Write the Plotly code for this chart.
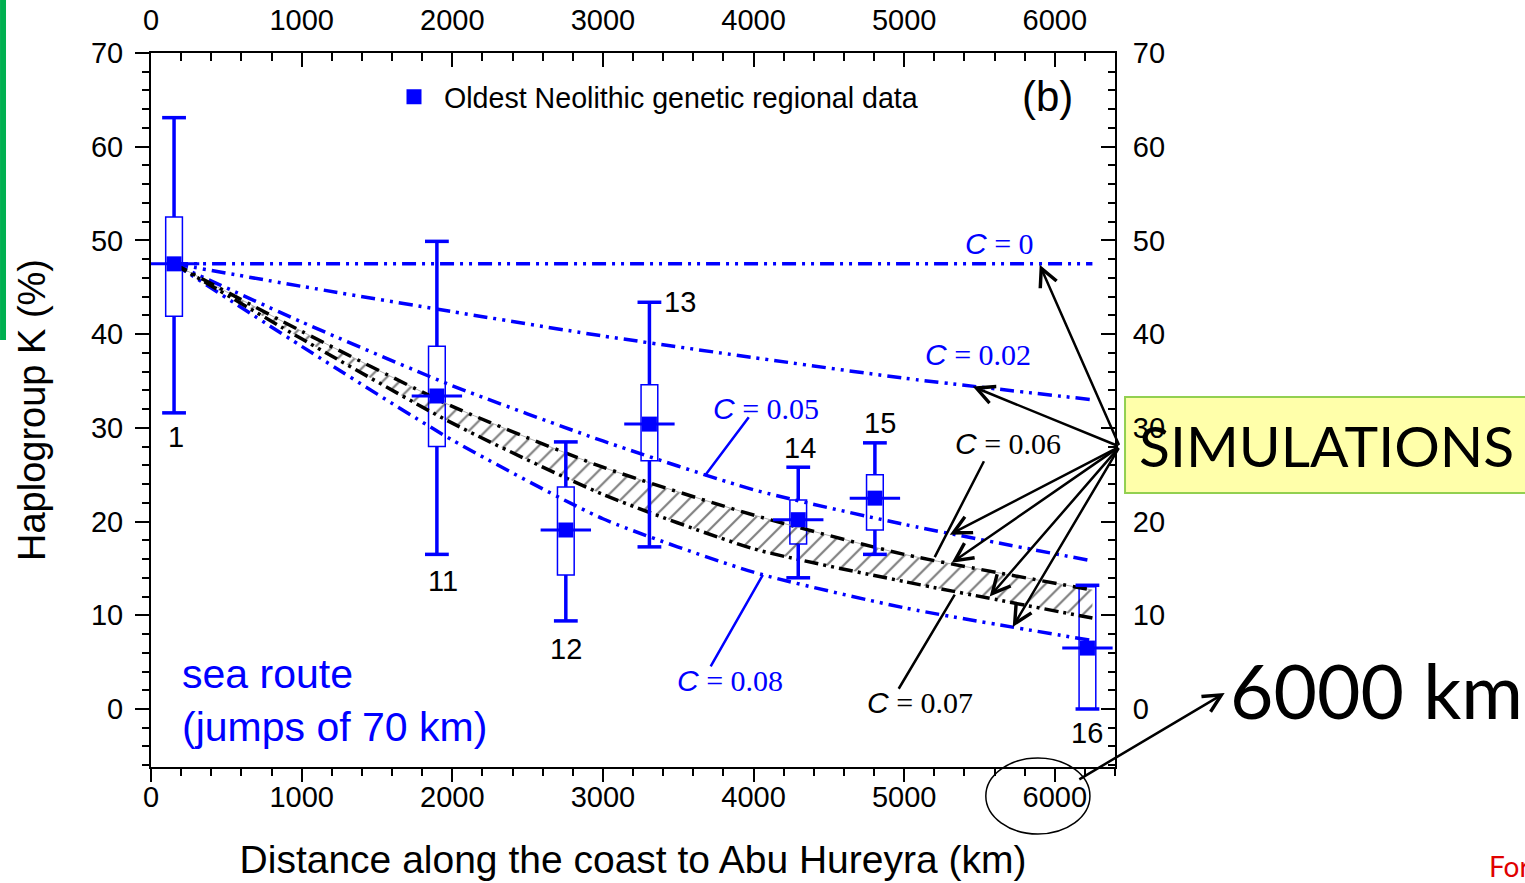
import plotly.graph_objects as go

# ---------------- data ----------------
sites = ["1", "11", "12", "13", "14", "15", "16"]
distance_km = [153, 1898, 2754, 3309, 4297, 4806, 6217]
mean_k = [47.5, 33.4, 19.1, 30.4, 20.2, 22.5, 6.5]
box_low = [41.9, 28.0, 14.3, 26.5, 17.6, 19.1, 0.0]
box_high = [52.5, 38.7, 23.7, 34.6, 22.3, 25.0, 13.05]
whisker_low = [31.6, 16.5, 9.4, 17.3, 14.0, 16.5, 0.0]
whisker_high = [63.1, 49.9, 28.5, 43.4, 25.8, 28.4, 13.2]
site_label_x = [166, 1938, 2754, 3511, 4307, 4838, 6212]
site_label_y = [29.0, 13.7, 6.4, 43.4, 27.9, 30.5, -2.6]

sim_x_km = [153, 1000, 2000, 3000, 4000, 5000, 6250]
sim_c000 = [47.5, 47.5, 47.5, 47.5, 47.5, 47.5, 47.5]
sim_c002 = [47.5, 45.1, 42.4, 39.8, 37.5, 35.3, 33.0]
sim_c005 = [47.5, 41.3, 34.5, 28.6, 23.4, 19.7, 15.8]
sim_c006 = [47.5, 40.3, 32.3, 25.8, 20.7, 16.5, 12.7]
sim_c007 = [47.5, 39.5, 30.5, 22.9, 17.1, 13.6, 9.7]
sim_c008 = [47.5, 38.7, 28.7, 20.3, 14.6, 10.8, 7.3]

x_ticks = [0, 1000, 2000, 3000, 4000, 5000, 6000]
y_ticks = [0, 10, 20, 30, 40, 50, 60, 70]

# C labels: text, x, y, colour
c_labels = ["C = 0", "C = 0.02", "C = 0.05", "C = 0.06", "C = 0.08", "C = 0.07"]
c_label_x = [5635, 5489, 4082, 5688, 3843, 5104]
c_label_y = [49.7, 37.8, 32.1, 28.3, 3.0, 0.64]
c_label_col = ["blue", "blue", "blue", "black", "blue", "black"]
# leader lines (from, to)
leader_from = [(3976, 31.3), (5535, 26.6), (3710, 4.4), (4958, 2.0)]
leader_to = [(3677, 24.9), (5203, 16.2), (4062, 14.3), (5336, 12.2)]
leader_col = ["blue", "black", "blue", "black"]
# arrows from SIMULATIONS box
arrow_tail = (6431, 28.0)
arrow_heads = [(5900, 47.4), (5456, 34.4), (5303, 18.6), (5316, 15.6), (5568, 12.0), (5721, 8.75)]

BLUE = "#0000ff"
FONT = "Liberation Sans"
SERIF = "Liberation Serif"

fig = go.Figure()

# hatched band between C=0.07 and C=0.06
fig.add_trace(go.Scatter(x=sim_x_km, y=sim_c007, mode="lines",
                         line=dict(width=0, color="rgba(0,0,0,0)", shape="spline", smoothing=0.6),
                         showlegend=False, hoverinfo="skip"))
fig.add_trace(go.Scatter(x=sim_x_km, y=sim_c006, mode="lines",
                         line=dict(width=0, color="rgba(0,0,0,0)", shape="spline", smoothing=0.6),
                         fill="tonexty", fillcolor="rgba(255,255,255,0)",
                         fillpattern=dict(shape="/", fgcolor="black", bgcolor="rgba(255,255,255,0)",
                                          size=12, solidity=0.18, fillmode="overlay"),
                         showlegend=False, hoverinfo="skip"))

# boxes
fig.add_trace(go.Box(x=distance_km, q1=box_low, median=mean_k, q3=box_high,
                     lowerfence=box_low, upperfence=box_high, width=111,
                     fillcolor="white", line=dict(color=BLUE, width=1.5),
                     whiskerwidth=0, boxpoints=False, showlegend=False, hoverinfo="skip"))

# simulation lines
blue_dash = "14px,6px,3px,6px,3px,6px"
# C = 0 line drawn on the mirrored (top/right) axes so that they are rendered
fig.add_trace(go.Scatter(x=sim_x_km, y=sim_c000, mode="lines", xaxis="x2", yaxis="y2",
                         line=dict(color=BLUE, width=3.5, dash=blue_dash),
                         showlegend=False, hoverinfo="skip"))
for ys in [sim_c002, sim_c005, sim_c008]:
    fig.add_trace(go.Scatter(x=sim_x_km, y=ys, mode="lines",
                             line=dict(color=BLUE, width=3.5, dash=blue_dash, shape="spline", smoothing=0.6),
                             showlegend=False, hoverinfo="skip"))
fig.add_trace(go.Scatter(x=sim_x_km, y=sim_c006, mode="lines",
                         line=dict(color="#b0b0b0", width=1, shape="spline", smoothing=0.6),
                         showlegend=False, hoverinfo="skip"))
fig.add_trace(go.Scatter(x=sim_x_km, y=sim_c006, mode="lines",
                         line=dict(color="black", width=3.5, dash="14px,7px,3px,7px", shape="spline", smoothing=0.6),
                         showlegend=False, hoverinfo="skip"))
fig.add_trace(go.Scatter(x=sim_x_km, y=sim_c007, mode="lines",
                         line=dict(color="black", width=3.5, dash="14px,5px,3px,5px,3px,5px", shape="spline", smoothing=0.6),
                         showlegend=False, hoverinfo="skip"))

# whisker stems
stem_x, stem_y = [], []
for d, lo, q1, q3, hi in zip(distance_km, whisker_low, box_low, box_high, whisker_high):
    stem_x += [d, d, None, d, d, None]
    stem_y += [q3, hi, None, lo, q1, None]
fig.add_trace(go.Scatter(x=stem_x, y=stem_y, mode="lines", line=dict(color=BLUE, width=3.5),
                         showlegend=False, hoverinfo="skip"))
# caps
fig.add_trace(go.Scatter(x=distance_km + distance_km, y=whisker_high + whisker_low, mode="markers",
                         marker=dict(symbol="line-ew", size=17, line=dict(color=BLUE, width=3.5)),
                         showlegend=False, hoverinfo="skip"))
# mean cross-bar
fig.add_trace(go.Scatter(x=distance_km, y=mean_k, mode="markers",
                         marker=dict(symbol="line-ew", size=36, line=dict(color=BLUE, width=3)),
                         showlegend=False, hoverinfo="skip"))
# mean squares (legend entry)
fig.add_trace(go.Scatter(x=distance_km, y=mean_k, mode="markers",
                         name="Oldest Neolithic genetic regional data",
                         marker=dict(symbol="square", size=15, color=BLUE)))

annotations = []
for s, lx, ly in zip(sites, site_label_x, site_label_y):
    annotations.append(dict(x=lx, y=ly, xref="x", yref="y", text=s, showarrow=False,
                            font=dict(family=FONT, size=29, color="black")))
for t, lx, ly, col in zip(c_labels, c_label_x, c_label_y, c_label_col):
    rest = t[1:]
    txt = f"<i>C</i><span style=\"font-family:{SERIF}\">{rest}</span>"
    annotations.append(dict(x=lx, y=ly, xref="x", yref="y", text=txt, showarrow=False,
                            font=dict(family=FONT, size=30, color=col)))
for (fx, fy), (tx, ty), col in zip(leader_from, leader_to, leader_col):
    annotations.append(dict(x=tx, y=ty, xref="x", yref="y", ax=fx, ay=fy, axref="x", ayref="y",
                            text="", showarrow=True, arrowhead=0, arrowwidth=2.5, arrowcolor=col))
for hx, hy in arrow_heads:
    annotations.append(dict(x=hx, y=hy, xref="x", yref="y", ax=arrow_tail[0], ay=arrow_tail[1],
                            axref="x", ayref="y", text="", showarrow=True, arrowhead=5,
                            arrowsize=1.4, arrowwidth=2.5, arrowcolor="black"))
# 6000 km arrow
annotations.append(dict(x=7128, y=1.7, xref="x", yref="y", ax=6153, ay=-7.6, axref="x", ayref="y",
                        text="", showarrow=True, arrowhead=5, arrowsize=1.4, arrowwidth=2.5,
                        arrowcolor="black"))
annotations.append(dict(x=5949, y=65.4, xref="x", yref="y", text="(b)", showarrow=False,
                        font=dict(family=FONT, size=42, color="black")))
annotations.append(dict(x=193, y=0.96, xref="x", yref="y", text="sea route<br>(jumps of 70 km)",
                        showarrow=False, xanchor="left", yanchor="middle", align="left",
                        font=dict(family=FONT, size=41, color=BLUE)))
annotations.append(dict(x=1.219, y=0.451, xref="paper", yref="paper", text="SIMULATIONS",
                        showarrow=False, xanchor="center", yanchor="middle",
                        font=dict(family="Lato", size=57, color="black")))
annotations.append(dict(x=1.117, y=0.1078, xref="paper", yref="paper", text="6000 km",
                        showarrow=False, xanchor="left", yanchor="middle",
                        font=dict(family="Lato", size=75, color="black")))
annotations.append(dict(x=1.386, y=-0.139, xref="paper", yref="paper", text="For",
                        showarrow=False, xanchor="left", yanchor="middle",
                        font=dict(family="Lato", size=28, color="#e00000")))

shapes = [
    dict(type="rect", xref="paper", yref="paper", x0=1.0104, x1=1.4305, y0=0.3838, y1=0.5182,
         fillcolor="#ffffaa", line=dict(color="#92d050", width=2), layer="below"),
    dict(type="circle", xref="paper", yref="paper", x0=0.866, x1=0.974, y0=-0.0938, y1=0.0126,
         line=dict(color="black", width=1.5)),
    dict(type="rect", xref="paper", yref="paper", x0=-0.1566, x1=-0.1504, y0=0.598, y1=1.08,
         fillcolor="#00b050", line=dict(width=0)),
]

XR = [0, 6400]
YR = [-6.19, 70]
tickfont = dict(family=FONT, size=29, color="black")

fig.update_layout(
    width=1525, height=883,
    margin=dict(l=151, r=410, t=53, b=116, autoexpand=False),
    paper_bgcolor="white", plot_bgcolor="white",
    font=dict(family=FONT, color="black"),
    showlegend=True,
    legend=dict(x=0.2417, y=0.938, xanchor="left", yanchor="middle", itemwidth=50,
                bgcolor="rgba(0,0,0,0)", font=dict(family=FONT, size=28.6, color="black")),
    xaxis=dict(range=XR, tickvals=x_ticks, ticks="outside", ticklen=13, tickwidth=2,
               tickcolor="black", showline=True, linewidth=2, linecolor="black", automargin=False,
               showgrid=False, zeroline=False, tickfont=tickfont, ticklabelstandoff=-10,
               minor=dict(dtick=200, ticks="outside", ticklen=7, tickwidth=2, tickcolor="black", showgrid=False),
               title=dict(text="Distance along the coast to Abu Hureyra (km)",
                          font=dict(family=FONT, size=39, color="black"), standoff=34)),
    xaxis2=dict(range=XR, overlaying="x", side="top", anchor="y2", tickvals=x_ticks, automargin=False,
                ticks="inside", ticklen=14, tickwidth=2, tickcolor="black",
                showline=True, linewidth=2, linecolor="black", showgrid=False, zeroline=False,
                tickfont=tickfont, ticklabelstandoff=9,
                minor=dict(dtick=200, ticks="inside", ticklen=8, tickwidth=2, tickcolor="black", showgrid=False)),
    yaxis=dict(range=YR, tickvals=y_ticks, ticks="outside", ticklen=14, tickwidth=2, automargin=False,
               tickcolor="black", showline=True, linewidth=2, linecolor="black",
               showgrid=False, zeroline=False, tickfont=tickfont, ticklabelstandoff=6,
               minor=dict(dtick=2, ticks="outside", ticklen=7, tickwidth=2, tickcolor="black", showgrid=False),
               title=dict(text="Haplogroup K (%)", font=dict(family=FONT, size=38, color="black"),
                          standoff=34)),
    yaxis2=dict(range=YR, overlaying="y", side="right", anchor="x2", tickvals=y_ticks, automargin=False,
                ticks="inside", ticklen=14, tickwidth=2, tickcolor="black",
                showline=True, linewidth=2, linecolor="black", showgrid=False, zeroline=False,
                tickfont=tickfont, ticklabelstandoff=10,
                minor=dict(dtick=2, ticks="inside", ticklen=7, tickwidth=2, tickcolor="black", showgrid=False)),
    annotations=annotations,
    shapes=shapes,
)

fig.write_html("out.html")
